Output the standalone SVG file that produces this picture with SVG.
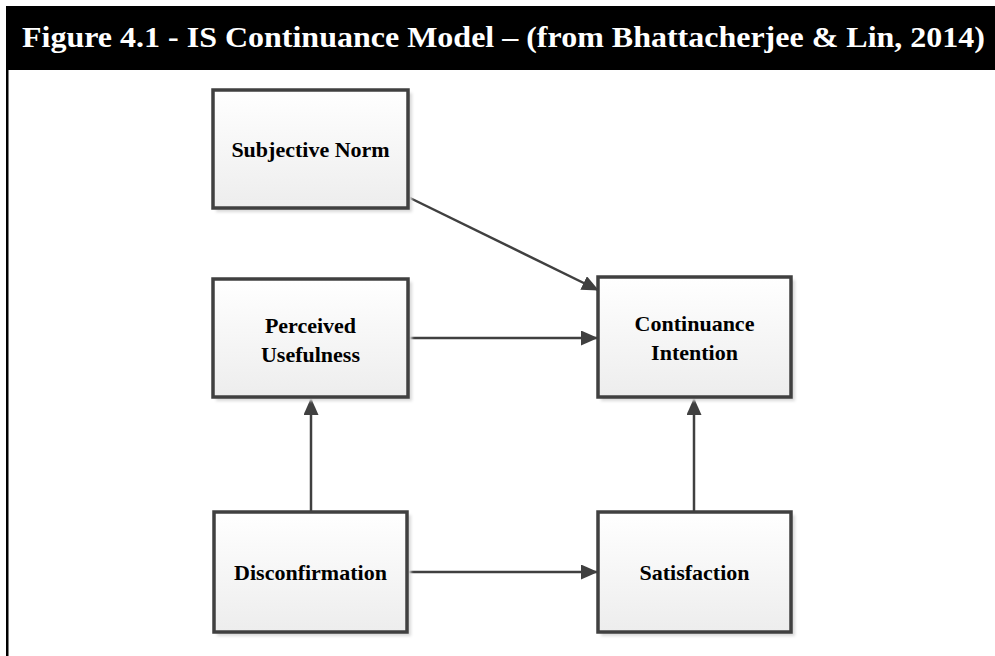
<svg xmlns="http://www.w3.org/2000/svg" width="995" height="656" viewBox="0 0 995 656">
  <style>
    .title { font-family: "Liberation Serif", "Times New Roman", serif; font-weight: bold; font-size: 30px; fill: #ffffff; }
    .box { fill: url(#boxFill); stroke: #404040; stroke-width: 3.5; }
    .shadow { fill: #d9d9d9; }
    .label { font-family: "Liberation Serif", "Times New Roman", serif; font-weight: bold; font-size: 22px; fill: #000000; text-anchor: middle; }
    .conn { stroke: #404040; stroke-width: 2.5; fill: none; marker-end: url(#arrow); }
  </style>
  <defs>
    <linearGradient id="boxFill" x1="0" y1="0" x2="0" y2="1">
      <stop offset="0" stop-color="#ffffff"/>
      <stop offset="1" stop-color="#ededed"/>
    </linearGradient>
    <marker id="arrow" markerWidth="17" markerHeight="15" refX="16" refY="7.5" orient="auto" markerUnits="userSpaceOnUse">
      <path d="M0,0 L17,7.5 L0,15 Z" fill="#404040"/>
    </marker>
    <filter id="soft" x="-10%" y="-10%" width="130%" height="130%">
      <feGaussianBlur stdDeviation="1.5"/>
    </filter>
  </defs>

  <rect width="995" height="656" fill="#ffffff"/>

  <!-- header bar and frame -->
  <rect x="6" y="6" width="989" height="64" fill="#000000"/>
  <rect x="6" y="70" width="2.5" height="586" fill="#000000"/>
  <text class="title" x="22" y="47" textLength="963" lengthAdjust="spacingAndGlyphs">Figure 4.1 - IS Continuance Model – (from Bhattacherjee &amp; Lin, 2014)</text>

  <!-- connectors -->
  <g id="connectors">
    <line class="conn" x1="408" y1="197" x2="598" y2="290"/>
    <line class="conn" x1="409" y1="338" x2="597" y2="338"/>
    <line class="conn" x1="311" y1="512" x2="311" y2="399"/>
    <line class="conn" x1="694" y1="512" x2="694" y2="399"/>
    <line class="conn" x1="409" y1="572" x2="597" y2="572"/>
  </g>

  <g id="subjective-norm">
    <rect class="shadow" x="216" y="93" width="196" height="119" filter="url(#soft)"/>
    <rect class="box" x="213" y="90" width="195" height="118"/>
    <text class="label" x="310.5" y="157">Subjective Norm</text>
  </g>

  <g id="perceived-usefulness">
    <rect class="shadow" x="216" y="282" width="196" height="119" filter="url(#soft)"/>
    <rect class="box" x="213" y="279" width="195" height="118"/>
    <text class="label" x="310.5" y="333">Perceived</text>
    <text class="label" x="310.5" y="362">Usefulness</text>
  </g>

  <g id="continuance-intention">
    <rect class="shadow" x="601" y="280" width="194" height="121" filter="url(#soft)"/>
    <rect class="box" x="598" y="277" width="193" height="120"/>
    <text class="label" x="694.5" y="331">Continuance</text>
    <text class="label" x="694.5" y="360">Intention</text>
  </g>

  <g id="disconfirmation">
    <rect class="shadow" x="217" y="515" width="194" height="121" filter="url(#soft)"/>
    <rect class="box" x="214" y="512" width="193" height="120"/>
    <text class="label" x="310.5" y="580">Disconfirmation</text>
  </g>

  <g id="satisfaction">
    <rect class="shadow" x="601" y="515" width="194" height="121" filter="url(#soft)"/>
    <rect class="box" x="598" y="512" width="193" height="120"/>
    <text class="label" x="694.5" y="580">Satisfaction</text>
  </g>
</svg>
